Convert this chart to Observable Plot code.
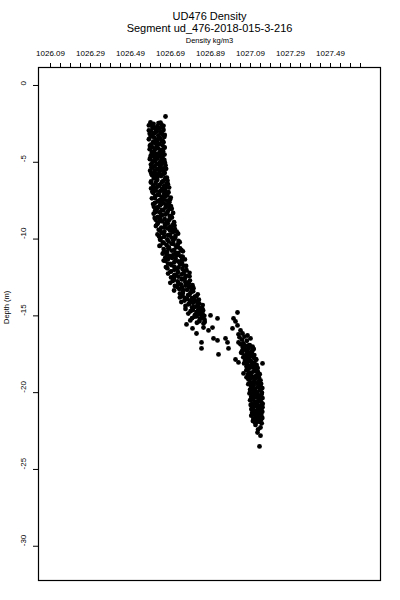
<!DOCTYPE html>
<html>
<head>
<meta charset="utf-8">
<script src="https://cdn.jsdelivr.net/npm/d3@7"></script>
<script src="https://cdn.jsdelivr.net/npm/@observablehq/plot@0.6"></script>
<style>
  html, body { margin: 0; padding: 0; background: #fff; }
  #chart { width: 400px; height: 600px; }
</style>
</head>
<body>
<div id="chart"></div>
<script>
const title = "UD476 Density";
const subtitle = "Segment ud_476-2018-015-3-216";
const xLabel = "Density kg/m3";
const yLabel = "Depth (m)";
const xTickLabels = [1026.09, 1026.29, 1026.49, 1026.69, 1026.89, 1027.09, 1027.29, 1027.49];
const xMinorTicks = [1026.09, 1026.14, 1026.19, 1026.24, 1026.29, 1026.34, 1026.39, 1026.44,
  1026.49, 1026.54, 1026.59, 1026.64, 1026.69, 1026.74, 1026.79, 1026.84, 1026.89, 1026.94,
  1026.99, 1027.04, 1027.09, 1027.14, 1027.19, 1027.24, 1027.29, 1027.34, 1027.39, 1027.44,
  1027.49, 1027.54, 1027.59, 1027.64];
const yTicks = [0, -5, -10, -15, -20, -25, -30];

// [depth (m), density (kg/m3)]
const surfaceLayer = [
[-2.02,1026.665],
[-2.40,1026.590],[-2.45,1026.630],[-2.50,1026.605],[-2.55,1026.645],[-2.60,1026.582],[-2.65,1026.625],[-2.70,1026.650],[-2.75,1026.600],[-2.80,1026.635],[-2.85,1026.615],[-2.90,1026.655],[-2.95,1026.592],
[-3.00,1026.621],[-3.05,1026.641],[-3.10,1026.611],[-3.15,1026.586],[-3.20,1026.649],[-3.25,1026.629],[-3.30,1026.599],[-3.35,1026.659],[-3.40,1026.609],[-3.45,1026.639],[-3.50,1026.582],[-3.55,1026.625],[-3.60,1026.646],[-3.65,1026.604],[-3.70,1026.655],[-3.75,1026.614],[-3.80,1026.634],[-3.85,1026.592],[-3.90,1026.650],[-3.95,1026.620],
[-4.00,1026.597],[-4.05,1026.660],[-4.10,1026.628],[-4.15,1026.586],[-4.20,1026.643],[-4.25,1026.609],[-4.30,1026.653],[-4.35,1026.599],[-4.40,1026.633],[-4.45,1026.617],[-4.50,1026.660],[-4.55,1026.592],[-4.60,1026.640],[-4.65,1026.608],[-4.70,1026.650],[-4.75,1026.625],[-4.80,1026.587],[-4.85,1026.659],[-4.90,1026.615],[-4.95,1026.639],
[-5.00,1026.600],[-5.05,1026.648],[-5.10,1026.630],[-5.15,1026.592],[-5.20,1026.665],[-5.25,1026.611],[-5.30,1026.637],[-5.35,1026.599],[-5.40,1026.656],[-5.45,1026.624],[-5.50,1026.646],[-5.55,1026.588],[-5.60,1026.635],[-5.65,1026.609],[-5.70,1026.661],[-5.75,1026.618],[-5.80,1026.652],[-5.85,1026.598],[-5.90,1026.643],[-5.95,1026.625],[-6.00,1026.672],
[-2.425,1026.640],[-2.525,1026.595],[-2.625,1026.655],[-2.725,1026.610],[-2.825,1026.625],[-2.925,1026.582],[-3.025,1026.646],[-3.125,1026.606],[-3.225,1026.661],[-3.325,1026.591],[-3.425,1026.633],[-3.525,1026.620],[-3.625,1026.652],[-3.725,1026.602],[-3.825,1026.630],[-3.925,1026.587],
[-4.025,1026.660],[-4.125,1026.614],[-4.225,1026.641],[-4.325,1026.597],[-4.425,1026.651],[-4.525,1026.612],[-4.625,1026.626],[-4.725,1026.588],[-4.825,1026.647],[-4.925,1026.605],
[-5.025,1026.662],[-5.125,1026.620],[-5.225,1026.641],[-5.325,1026.595],[-5.425,1026.668],[-5.525,1026.612],[-5.625,1026.655],[-5.725,1026.594],[-5.825,1026.636],[-5.925,1026.607]
];

const midLayer = [
[-6.05,1026.607],[-6.10,1026.662],[-6.15,1026.624],[-6.20,1026.675],[-6.25,1026.593],[-6.30,1026.647],[-6.35,1026.616],[-6.40,1026.670],[-6.45,1026.637],[-6.50,1026.604],[-6.55,1026.658],[-6.60,1026.624],[-6.65,1026.683],[-6.70,1026.593],[-6.75,1026.646],[-6.80,1026.664],[-6.85,1026.617],[-6.90,1026.637],[-6.95,1026.680],
[-7.00,1026.604],[-7.05,1026.658],[-7.10,1026.627],[-7.15,1026.673],[-7.20,1026.614],[-7.25,1026.646],[-7.30,1026.691],[-7.35,1026.597],[-7.40,1026.656],[-7.45,1026.638],[-7.50,1026.673],[-7.55,1026.625],[-7.60,1026.684],[-7.65,1026.612],[-7.70,1026.647],[-7.75,1026.667],[-7.80,1026.638],[-7.85,1026.692],[-7.90,1026.607],[-7.95,1026.665],
[-8.00,1026.624],[-8.05,1026.684],[-8.10,1026.647],[-8.15,1026.613],[-8.20,1026.676],[-8.25,1026.636],[-8.30,1026.703],[-8.35,1026.606],[-8.40,1026.664],[-8.45,1026.647],[-8.50,1026.686],[-8.55,1026.627],[-8.60,1026.697],[-8.65,1026.638],[-8.70,1026.661],[-8.75,1026.616],[-8.80,1026.680],[-8.85,1026.649],[-8.90,1026.708],[-8.95,1026.627],
[-9.00,1026.676],[-9.05,1026.663],[-9.10,1026.700],[-9.15,1026.617],[-9.20,1026.689],[-9.25,1026.644],[-9.30,1026.675],[-9.35,1026.712],[-9.40,1026.631],[-9.45,1026.688],[-9.50,1026.659],[-9.55,1026.702],[-9.60,1026.645],[-9.65,1026.728],[-9.70,1026.625],[-9.75,1026.678],[-9.80,1026.715],[-9.85,1026.658],[-9.90,1026.695],[-9.95,1026.641],
[-10.00,1026.706],
[-6.025,1026.666],[-6.125,1026.620],[-6.225,1026.653],[-6.325,1026.592],[-6.425,1026.677],[-6.525,1026.634],[-6.625,1026.664],[-6.725,1026.611],[-6.825,1026.650],[-6.925,1026.599],
[-7.025,1026.676],[-7.125,1026.633],[-7.225,1026.664],[-7.325,1026.613],[-7.425,1026.688],[-7.525,1026.631],[-7.625,1026.652],[-7.725,1026.603],[-7.825,1026.678],[-7.925,1026.627],
[-8.025,1026.696],[-8.125,1026.653],[-8.225,1026.618],[-8.325,1026.671],[-8.425,1026.644],[-8.525,1026.694],[-8.625,1026.611],[-8.725,1026.685],[-8.825,1026.636],[-8.925,1026.670],
[-9.025,1026.624],[-9.125,1026.710],[-9.225,1026.661],[-9.325,1026.693],[-9.425,1026.637],[-9.525,1026.721],[-9.625,1026.657],[-9.725,1026.687],[-9.825,1026.633],[-9.925,1026.713]
];

const lowerLayer = [
[-10.05,1026.638],[-10.10,1026.704],[-10.15,1026.680],[-10.20,1026.736],[-10.25,1026.656],[-10.30,1026.695],[-10.35,1026.726],[-10.40,1026.671],[-10.45,1026.635],[-10.50,1026.719],[-10.55,1026.682],[-10.60,1026.738],[-10.65,1026.656],[-10.70,1026.709],[-10.75,1026.696],[-10.80,1026.752],[-10.85,1026.673],[-10.90,1026.730],[-10.95,1026.651],
[-11.00,1026.705],[-11.05,1026.723],[-11.10,1026.687],[-11.15,1026.751],[-11.20,1026.664],[-11.25,1026.715],[-11.30,1026.678],[-11.35,1026.747],[-11.40,1026.656],[-11.45,1026.728],[-11.50,1026.709],[-11.55,1026.747],[-11.60,1026.678],[-11.65,1026.739],[-11.70,1026.695],[-11.75,1026.768],[-11.80,1026.709],[-11.85,1026.730],[-11.90,1026.674],[-11.95,1026.750],
[-12.00,1026.710],[-12.05,1026.765],[-12.10,1026.694],[-12.15,1026.728],[-12.20,1026.785],[-12.25,1026.678],[-12.30,1026.746],[-12.35,1026.709],[-12.40,1026.768],[-12.45,1026.729],[-12.50,1026.693],[-12.55,1026.762],[-12.60,1026.746],[-12.65,1026.707],[-12.70,1026.787],[-12.75,1026.726],[-12.80,1026.764],[-12.85,1026.689],[-12.90,1026.781],[-12.95,1026.742],
[-13.00,1026.800],
[-13.05,1026.712],[-13.10,1026.783],[-13.15,1026.747],[-13.20,1026.805],[-13.25,1026.734],[-13.30,1026.773],[-13.35,1026.708],[-13.40,1026.803],[-13.45,1026.752],[-13.50,1026.790],[-13.55,1026.737],[-13.60,1026.826],[-13.65,1026.778],[-13.70,1026.750],[-13.75,1026.812],[-13.80,1026.737],[-13.85,1026.798],[-13.90,1026.774],[-13.95,1026.832],
[-14.00,1026.760],[-14.05,1026.814],[-14.10,1026.744],[-14.15,1026.802],[-14.20,1026.834],[-14.25,1026.780],[-14.30,1026.851],[-14.35,1026.765],[-14.40,1026.815],[-14.45,1026.798],[-14.50,1026.836],[-14.55,1026.765],[-14.60,1026.829],[-14.65,1026.853],[-14.70,1026.790],[-14.75,1026.821],[-14.80,1026.848],[-14.85,1026.779],[-14.90,1026.833],[-14.95,1026.812],
[-15.00,1026.859],[-15.05,1026.810],[-15.10,1026.848],[-15.15,1026.798],[-15.20,1026.837],[-15.25,1026.860],[-15.30,1026.789],[-15.35,1026.834],[-15.40,1026.861],[-15.45,1026.822],[-15.50,1026.855],
[-10.025,1026.674],[-10.125,1026.730],[-10.225,1026.652],[-10.325,1026.705],[-10.425,1026.639],[-10.525,1026.727],[-10.625,1026.679],[-10.725,1026.745],[-10.825,1026.657],[-10.925,1026.718],
[-11.025,1026.672],[-11.125,1026.742],[-11.225,1026.698],[-11.325,1026.762],[-11.425,1026.665],[-11.525,1026.735],[-11.625,1026.691],[-11.725,1026.755],[-11.825,1026.667],[-11.925,1026.723],
[-12.025,1026.770],[-12.125,1026.689],[-12.225,1026.755],[-12.325,1026.718],[-12.425,1026.785],[-12.525,1026.707],[-12.625,1026.748],[-12.725,1026.701],[-12.825,1026.780],[-12.925,1026.729],
[-13.025,1026.765],[-13.125,1026.724],[-13.225,1026.794],[-13.325,1026.754],[-13.425,1026.794],[-13.525,1026.751],[-13.625,1026.785],[-13.725,1026.819],[-13.825,1026.761],[-13.925,1026.807],
[-14.025,1026.787],[-14.125,1026.825],[-14.225,1026.783],[-14.325,1026.826],[-14.425,1026.807],[-14.525,1026.849],[-14.625,1026.802],[-14.725,1026.839],[-14.825,1026.820],[-14.925,1026.851],
[-15.025,1026.820],[-15.125,1026.845]
];

const transitionScatter = [
[-14.97,1026.890],[-15.17,1026.925],[-15.56,1026.770],[-15.82,1026.800],[-16.15,1026.820],[-15.76,1026.855],[-15.95,1026.880],[-15.76,1026.900],[-16.47,1026.905],[-16.60,1026.925],[-16.47,1026.965],[-16.73,1026.975],[-16.73,1026.845],[-17.12,1026.845],[-17.12,1026.980],[-17.51,1026.930],
[-14.78,1027.025],[-15.17,1027.005],[-15.36,1027.015],[-15.62,1027.025],[-15.82,1027.000],[-15.95,1027.040],[-16.15,1027.050],[-16.28,1027.075],[-16.47,1027.090],[-16.73,1027.030],[-16.80,1027.055],[-16.20,1027.030],[-16.35,1027.060],[-16.40,1027.035],[-16.55,1027.048],[-16.62,1027.072],[-17.84,1027.015],[-18.03,1027.030],[-18.10,1027.150],[-18.75,1027.055],[-19.00,1027.070]
];

const bottomLayer = [
[-16.85,1027.040],[-16.90,1027.086],[-16.95,1027.066],[-17.00,1027.100],[-17.05,1027.053],[-17.10,1027.081],[-17.15,1027.106],[-17.20,1027.062],[-17.25,1027.049],[-17.30,1027.098],[-17.35,1027.076],[-17.40,1027.043],[-17.45,1027.095],[-17.50,1027.070],[-17.55,1027.109],[-17.60,1027.062],[-17.65,1027.091],[-17.70,1027.054],[-17.75,1027.108],[-17.80,1027.082],[-17.85,1027.119],[-17.90,1027.064],[-17.95,1027.092],
[-18.00,1027.073],[-18.05,1027.109],[-18.10,1027.058],[-18.15,1027.103],[-18.20,1027.120],[-18.25,1027.083],[-18.30,1027.070],[-18.35,1027.097],[-18.40,1027.126],[-18.45,1027.081],[-18.50,1027.114],[-18.55,1027.069],[-18.60,1027.108],[-18.65,1027.127],[-18.70,1027.096],[-18.75,1027.083],[-18.80,1027.136],[-18.85,1027.077],[-18.90,1027.118],[-18.95,1027.099],
[-19.00,1027.132],[-19.05,1027.094],[-19.10,1027.113],[-19.15,1027.080],[-19.20,1027.140],[-19.25,1027.109],[-19.30,1027.130],[-19.35,1027.090],[-19.40,1027.123],[-19.45,1027.079],[-19.50,1027.140],[-19.55,1027.106],[-19.60,1027.129],[-19.65,1027.095],[-19.70,1027.149],[-19.75,1027.112],[-19.80,1027.088],[-19.85,1027.136],[-19.90,1027.116],[-19.95,1027.101],
[-20.00,1027.147],[-20.05,1027.085],[-20.10,1027.125],[-20.15,1027.107],[-20.20,1027.139],[-20.25,1027.094],[-20.30,1027.120],[-20.35,1027.150],[-20.40,1027.104],[-20.45,1027.134],[-20.50,1027.088],[-20.55,1027.128],[-20.60,1027.113],[-20.65,1027.145],[-20.70,1027.099],[-20.75,1027.123],[-20.80,1027.091],[-20.85,1027.140],[-20.90,1027.110],[-20.95,1027.150],
[-21.00,1027.102],[-21.05,1027.128],[-21.10,1027.095],[-21.15,1027.137],[-21.20,1027.117],[-21.25,1027.149],[-21.30,1027.099],[-21.35,1027.128],[-21.40,1027.108],[-21.45,1027.144],[-21.50,1027.094],[-21.55,1027.134],[-21.60,1027.115],[-21.65,1027.149],[-21.70,1027.105],[-21.75,1027.127],[-21.80,1027.141],[-21.85,1027.102],[-21.90,1027.134],[-21.95,1027.118],
[-22.00,1027.146],
[-16.925,1027.081],[-17.025,1027.052],[-17.125,1027.102],[-17.225,1027.070],[-17.325,1027.094],[-17.425,1027.049],[-17.525,1027.081],[-17.625,1027.105],[-17.725,1027.069],[-17.825,1027.117],[-17.925,1027.063],
[-18.025,1027.095],[-18.125,1027.073],[-18.225,1027.119],[-18.325,1027.089],[-18.425,1027.111],[-18.525,1027.073],[-18.625,1027.121],[-18.725,1027.093],[-18.825,1027.133],[-18.925,1027.087],
[-19.025,1027.116],[-19.125,1027.086],[-19.225,1027.133],[-19.325,1027.104],[-19.425,1027.143],[-19.525,1027.092],[-19.625,1027.129],[-19.725,1027.102],[-19.825,1027.140],[-19.925,1027.090],
[-20.025,1027.121],[-20.125,1027.145],[-20.225,1027.099],[-20.325,1027.132],[-20.425,1027.092],[-20.525,1027.140],[-20.625,1027.111],[-20.725,1027.151],[-20.825,1027.099],[-20.925,1027.128],
[-21.025,1027.096],[-21.125,1027.145],[-21.225,1027.111],[-21.325,1027.137],[-21.425,1027.098],[-21.525,1027.126],[-21.625,1027.145],[-21.725,1027.107],[-21.825,1027.131],[-21.925,1027.112],
[-22.10,1027.115],[-22.27,1027.140],[-22.40,1027.128],[-22.60,1027.125],[-22.80,1027.140],[-23.50,1027.135]
];

const profile = [...surfaceLayer, ...midLayer, ...lowerLayer, ...transitionScatter, ...bottomLayer]
  .map(([depth, density]) => ({depth, density}));

const font = "'Liberation Sans', Arial, Helvetica, sans-serif";

const chart = Plot.plot({
  width: 400,
  height: 600,
  marginLeft: 38,
  marginRight: 20,
  marginTop: 67,
  marginBottom: 20,
  style: {fontFamily: font, fontSize: "8px", background: "#fff", color: "#000"},
  x: {domain: [1026.03, 1027.74]},
  y: {domain: [-32.23, 1.17]},
  marks: [
    Plot.frame({stroke: "#000", strokeWidth: 1.2}),
    Plot.axisX(xMinorTicks, {anchor: "top", tickSize: 5, tickFormat: () => "", label: null, stroke: "#000"}),
    Plot.axisY(yTicks, {anchor: "left", tickSize: 5, tickFormat: () => "", label: null, stroke: "#000"}),
    Plot.text(xTickLabels, {x: d => d, text: d => d.toFixed(2), frameAnchor: "top", dy: -17, fontSize: 8, fill: "#000"}),
    Plot.text(yTicks, {y: d => d, text: d => String(d), frameAnchor: "left", dx: -15, rotate: -90, fontSize: 8, fill: "#000"}),
    Plot.text([yLabel], {text: d => d, frameAnchor: "left", dx: -32, rotate: -90, fontSize: 7.5, fill: "#000"}),
    Plot.text([xLabel], {text: d => d, frameAnchor: "top", dy: -30, fontSize: 7.5, fill: "#000"}),
    Plot.text([subtitle], {text: d => d, frameAnchor: "top", dy: -43, fontSize: 11, fill: "#000"}),
    Plot.text([title], {text: d => d, frameAnchor: "top", dy: -55, fontSize: 11, fill: "#000"}),
    Plot.dot(profile, {x: "density", y: "depth", r: 2.4, fill: "#000", stroke: "none"})
  ]
});
document.getElementById("chart").appendChild(chart);
</script>
</body>
</html>
